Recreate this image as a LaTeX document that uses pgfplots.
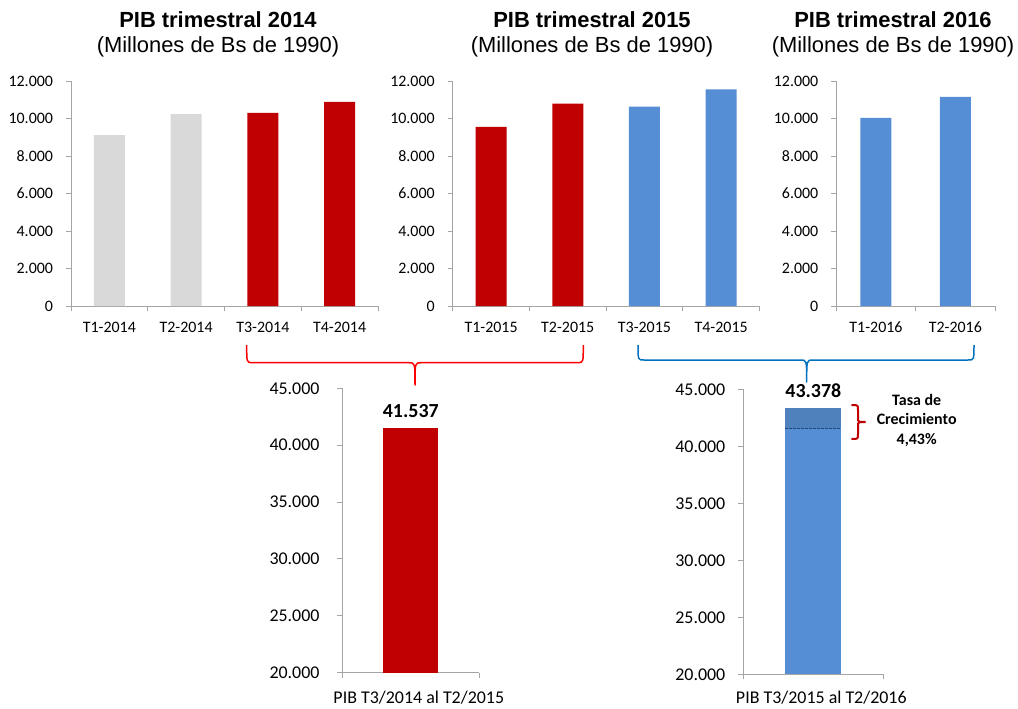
\documentclass[border=0pt]{standalone}
\usepackage{pgfplots}
\pgfplotsset{compat=1.18}
\usepackage{fontspec}
\setmainfont{Carlito}
\newfontfamily\arial{Liberation Sans}
\definecolor{axisgray}{RGB}{165,165,165}
\definecolor{lgray}{RGB}{217,217,217}
\definecolor{dred}{RGB}{192,0,0}
\definecolor{lblue}{RGB}{85,142,213}
\definecolor{mblue}{RGB}{79,129,189}
\definecolor{navy}{RGB}{31,73,125}
\definecolor{braceblue}{RGB}{0,112,192}
\pgfplotsset{
  gdpbase/.style={
    scale only axis, anchor=south west,
    axis x line*=bottom, axis y line*=left,
    axis line style={draw=axisgray, line width=0.9bp, -},
    tick style={draw=axisgray, line width=0.9bp},
    tick align=outside, major tick length=5bp,
    scaled y ticks=false,
    /pgf/number format/1000 sep={.},
    /pgf/number format/assume math mode=true,
    xticklabels={},
    extra x tick style={major tick length=0pt},
  },
  topaxis/.style={
    gdpbase, width=#1, height=225bp, ymin=0, ymax=12000,
    ytick={0,2000,...,12000},
    yticklabel style={font=\fontsize{16}{19}\selectfont, anchor=east, inner sep=0pt, xshift=-12.8bp},
    xticklabel style={font=\fontsize{16}{19}\selectfont, anchor=base, inner sep=0pt, yshift=-26.5bp},
  },
  botaxis/.style={
    gdpbase, xmin=-0.5, xmax=0.5, ymin=20000, ymax=45000,
    ytick={20000,25000,...,45000},
    xtick={-0.5,0.5}, extra x ticks={0},
    yticklabel style={font=\fontsize{18}{22}\selectfont, anchor=east, inner sep=0pt},
    xticklabel style={font=\fontsize{18}{22}\selectfont, anchor=base, inner sep=0pt, xshift=8bp},
  },
  barlabel/.style={nodes near coords, every node near coord/.append style={anchor=base, yshift=10bp, inner sep=0pt, font=\bfseries\fontsize{20}{24}\selectfont, text=black}},
}
\begin{document}
\begin{tikzpicture}
% ---------- top left: 2014
\begin{axis}[topaxis=307bp, at={(71bp,-306bp)},
  xmin=-0.5, xmax=3.5, xtick={-0.5,0.5,1.5,2.5,3.5},
  extra x ticks={0,1,2,3},
  extra x tick labels={T1-2014,T2-2014,T3-2014,T4-2014}]
\addplot[ybar, bar width=31bp, fill=lgray, draw=none] coordinates {(0,9120) (1,10240)};
\addplot[ybar, bar width=31bp, fill=dred, draw=none] coordinates {(2,10300) (3,10890)};
\end{axis}
% ---------- top middle: 2015
\begin{axis}[topaxis=306.8bp, at={(452.7bp,-306bp)},
  xmin=-0.5, xmax=3.5, xtick={-0.5,0.5,1.5,2.5,3.5},
  extra x ticks={0,1,2,3},
  extra x tick labels={T1-2015,T2-2015,T3-2015,T4-2015}]
\addplot[ybar, bar width=31bp, fill=dred, draw=none] coordinates {(0,9560) (1,10787)};
\addplot[ybar, bar width=31bp, fill=lblue, draw=none] coordinates {(2,10640) (3,11550)};
\end{axis}
% ---------- top right: 2016
\begin{axis}[topaxis=158.7bp, at={(836.3bp,-306bp)},
  xmin=-0.5, xmax=1.5, xtick={-0.5,0.5,1.5},
  extra x ticks={0,1},
  extra x tick labels={T1-2016,T2-2016}]
\addplot[ybar, bar width=31bp, fill=lblue, draw=none] coordinates {(0,10040) (1,11148)};
\end{axis}
% ---------- bottom left
\begin{axis}[botaxis, at={(342.3bp,-672.7bp)}, width=137bp, height=284.4bp,
  extra x tick labels={PIB T3/2014 al T2/2015},
  yticklabel style={xshift=-17.6bp},
  xticklabel style={yshift=-30.3bp}]
\addplot[ybar, bar width=55bp, fill=dred, draw=none, barlabel] coordinates {(0,41537)};
\end{axis}
% ---------- bottom right
\begin{axis}[botaxis, at={(743.3bp,-674.3bp)}, width=140bp, height=285bp,
  extra x tick labels={PIB T3/2015 al T2/2016},
  yticklabel style={xshift=-12.8bp},
  xticklabel style={yshift=-29bp}]
\addplot[ybar, bar width=56bp, fill=mblue, draw=none, barlabel] coordinates {(0,43378)};
\addplot[ybar, bar width=56bp, fill=lblue, draw=none] coordinates {(0,41537)};
\addplot[navy, line width=1bp, dash pattern=on 2.5bp off 1.5bp] coordinates {(-0.2,41537) (0.2,41537)};
\end{axis}
% ---------- titles, braces, annotation
\begin{scope}[x=1bp, y=-1bp]
  \foreach \cx/\yr in {218/2014, 592/2015, 893/2016}{
    \node[anchor=base, inner sep=0pt, font=\arial\bfseries\fontsize{22}{26}\selectfont] at (\cx,27) {PIB trimestral \yr};
    \node[anchor=base, inner sep=0pt, font=\arial\fontsize{22}{26}\selectfont] at (\cx,52) {(Millones de Bs de 1990)};
  }
  \draw[red, line width=1.5bp, line join=round]
    (246.7,345) .. controls (246.7,362.7) .. (252.5,362.7) -- (409,362.7)
    .. controls (415,362.7) .. (415,385)
    .. controls (415,362.7) .. (421,362.7) -- (577.5,362.7)
    .. controls (583.3,362.7) .. (583.3,345);
  \draw[braceblue, line width=1.5bp, line join=round]
    (638,345) .. controls (638,360) .. (643.8,360) -- (800.7,360)
    .. controls (806.7,360) .. (806.7,382)
    .. controls (806.7,360) .. (812.7,360) -- (968.2,360)
    .. controls (974,360) .. (974,345);
  \draw[dred, line width=2bp, line join=round, line cap=round]
    (852,405) .. controls (858,405) .. (858,410) -- (858,418)
    .. controls (858,422) .. (865,422)
    .. controls (858,422) .. (858,426) -- (858,434)
    .. controls (858,439) .. (852,439);
  \node[anchor=base, inner sep=0pt, font=\bfseries\fontsize{16}{19}\selectfont] at (916.7,405) {Tasa de};
  \node[anchor=base, inner sep=0pt, font=\bfseries\fontsize{16}{19}\selectfont] at (916.7,424.5) {Crecimiento};
  \node[anchor=base, inner sep=0pt, font=\bfseries\fontsize{16}{19}\selectfont] at (916.7,444) {4,43\%};
\end{scope}
\pgfresetboundingbox
\path[use as bounding box] (0,0) rectangle (1018bp,-709bp);
\end{tikzpicture}
\end{document}
